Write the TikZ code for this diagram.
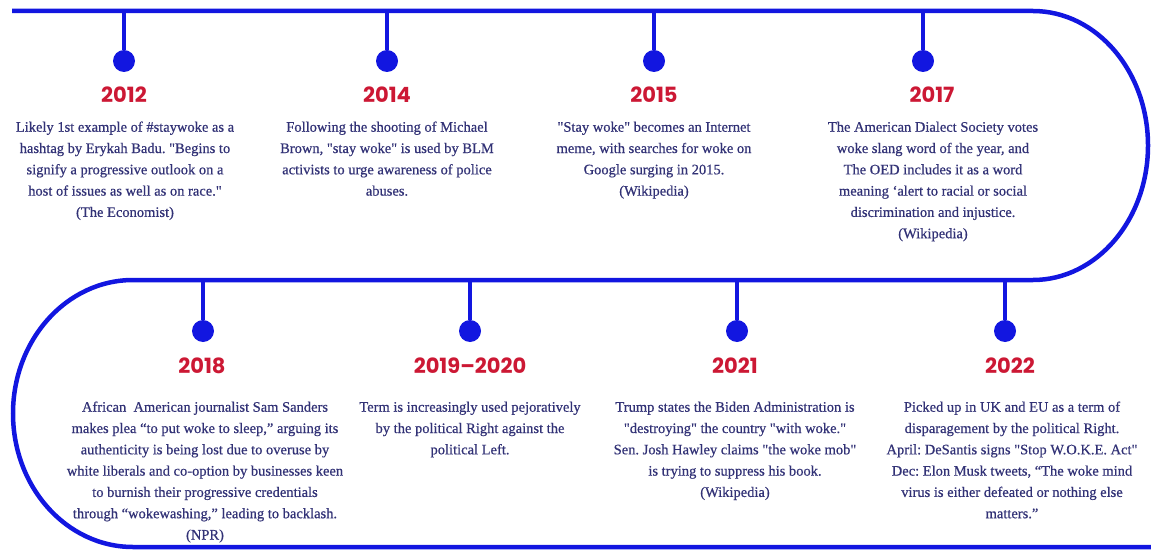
\documentclass[tikz,border=0pt]{standalone}
\usepackage{fontspec}
% TeXOff keeps the straight " as typed; curly quotes are written as Unicode
\setmainfont{Liberation Serif}[FakeBold=0.6,Ligatures=TeXOff]
\newfontfamily\yearfont{Poppins}
\definecolor{lineblue}{RGB}{18,22,224}
\definecolor{yearred}{RGB}{204,24,52}
\definecolor{bodynavy}{RGB}{50,50,118}
\begin{document}
\frenchspacing
\begin{tikzpicture}[x=1pt,y=1pt,
  timeline/.style={draw=lineblue,line width=4.5pt},
  stem/.style={draw=lineblue,line width=3.5pt},
  dot/.style={circle,fill=lineblue,inner sep=0pt,minimum size=22pt},
  year/.style={font=\yearfont\bfseries\fontsize{21}{24}\selectfont,text=yearred,inner sep=0pt},
  body/.style={font=\fontsize{14.5}{21.3}\selectfont,text=bodynavy,align=center,anchor=north,inner sep=0pt}]
\useasboundingbox (0,0) rectangle (1151,550);

% the winding timeline: top row, right turn, middle row, left turn, bottom row
\draw[timeline] (12,539) -- (1033,539)
  arc[start angle=90,end angle=-90,x radius=115,y radius=134.5]
  -- (133,270)
  arc[start angle=90,end angle=270,x radius=120,y radius=133.5]
  -- (1151,3);

% top row
\coordinate (t12) at (124,539);
\coordinate (t14) at (387,539);
\coordinate (t15) at (654,539);
\coordinate (t17) at (923,539);
\node[dot] (d12) at (124,489) {};
\node[dot] (d14) at (387,489) {};
\node[dot] (d15) at (654,489) {};
\node[dot] (d17) at (923,489) {};
\draw[stem] (t12) -- (d12);
\draw[stem] (t14) -- (d14);
\draw[stem] (t15) -- (d15);
\draw[stem] (t17) -- (d17);

\node[year] (y12) at (124,455) {2012};
\node[year] (y14) at (387,455) {2014};
\node[year] (y15) at (654,455) {2015};
\node[year] (y17) at (932,455) {2017};

\node[body] (b12) at (125,433.4) {\strut Likely 1st example of \#staywoke as a\\
hashtag by Erykah Badu. "Begins to\\
signify a progressive outlook on a\\
host of issues as well as on race."\\
(The Economist)};
\node[body] (b14) at (387,433.4) {\strut Following the shooting of Michael\\
Brown, "stay woke" is used by BLM\\
activists to urge awareness of police\\
abuses.};
\node[body] (b15) at (654,433.4) {\strut "Stay woke" becomes an Internet\\
meme, with searches for woke on\\
Google surging in 2015.\\
(Wikipedia)};
\node[body] (b17) at (933,433.4) {\strut The American Dialect Society votes\\
woke slang word of the year, and\\
The OED includes it as a word\\
meaning ‘alert to racial or social\\
discrimination and injustice.\\
(Wikipedia)};

% bottom row
\coordinate (t18) at (203,270);
\coordinate (t19) at (470,270);
\coordinate (t21) at (737,270);
\coordinate (t22) at (1005,270);
\node[dot] (d18) at (203,219) {};
\node[dot] (d19) at (470,219) {};
\node[dot] (d21) at (737,219) {};
\node[dot] (d22) at (1005,219) {};
\draw[stem] (t18) -- (d18);
\draw[stem] (t19) -- (d19);
\draw[stem] (t21) -- (d21);
\draw[stem] (t22) -- (d22);

\node[year] (y18) at (202,184) {2018};
\node[year] (y19) at (470,184) {2019–2020};
\node[year] (y21) at (735,184) {2021};
\node[year] (y22) at (1010,184) {2022};

\node[body] (b18) at (205,153.4) {\strut African~ American journalist Sam Sanders\\
makes plea “to put woke to sleep,” arguing its\\
authenticity is being lost due to overuse by\\
white liberals and co-option by businesses keen\\
to burnish their progressive credentials\\
through “wokewashing,” leading to backlash.\\
(NPR)};
\node[body] (b19) at (470,153.4) {\strut Term is increasingly used pejoratively\\
by the political Right against the\\
political Left.};
\node[body] (b21) at (735,153.4) {\strut Trump states the Biden Administration is\\
"destroying" the country "with woke."\\
Sen. Josh Hawley claims "the woke mob"\\
is trying to suppress his book.\\
(Wikipedia)};
\node[body] (b22) at (1012,153.4) {\strut Picked up in UK and EU as a term of\\
disparagement by the political Right.\\
April: DeSantis signs "Stop W.O.K.E. Act"\\
Dec: Elon Musk tweets, “The woke mind\\
virus is either defeated or nothing else\\
matters.”};
\end{tikzpicture}
\end{document}
